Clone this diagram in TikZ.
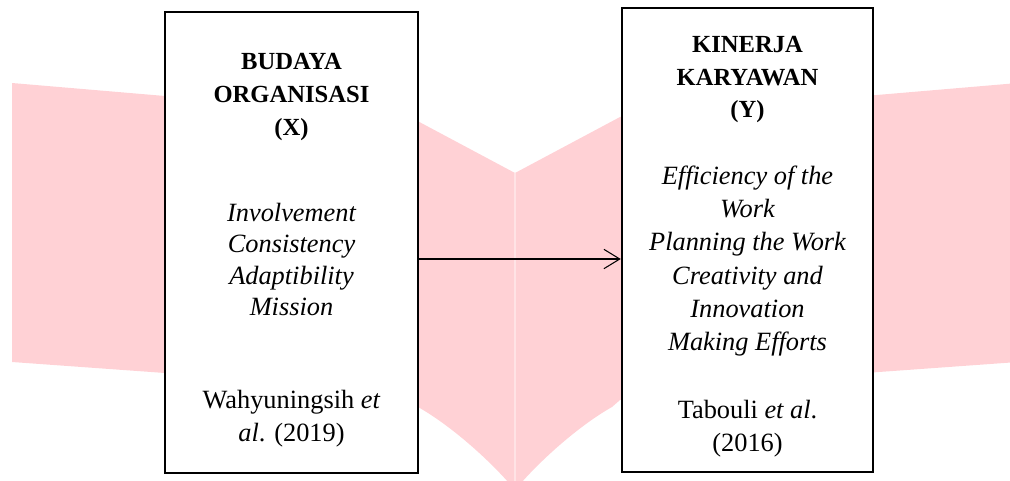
\documentclass[tikz,border=0pt]{standalone}
\usepackage{fontspec}
\setmainfont{Liberation Serif}
\usetikzlibrary{arrows.meta}
\definecolor{wmpink}{RGB}{255,209,213}
\tikzset{
  varbox/.style={draw, line width=1.4pt, fill=white, inner sep=0pt},
  head/.style={align=center, font=\fontsize{14}{18.6}\selectfont\bfseries},
  items/.style={align=center, font=\fontsize{15}{18.9}\selectfont\itshape},
  cite/.style={align=center, font=\fontsize{15}{18.8}\selectfont},
  arr/.style={-{Straight Barb[length=9pt,width=11pt]}, line width=0.6pt}
}

\begin{document}
\begin{tikzpicture}
\useasboundingbox (0,0) rectangle (20.2,9.6);

% watermark behind
\fill[wmpink] (0.24,7.94) -- (3.30,7.68) -- (8.20,7.26) -- (10.30,6.14)
  -- (12.40,7.26) -- (17.30,7.68) -- (20.36,7.94) -- (20.36,2.36)
  -- (17.30,2.14) -- (12.40,1.60) -- (12.24,1.46)
  .. controls (11.6,1.10) and (10.8,0.40) .. (10.30,-0.20)
  .. controls (9.8,0.40) and (9.0,1.10) .. (8.36,1.46)
  -- (8.20,1.60) -- (3.30,2.14) -- (0.24,2.36) -- cycle;
\draw[white, opacity=0.4, line width=0.6pt] (10.30,6.14) -- (10.30,-0.20);

\node[varbox, minimum width=5.06cm, minimum height=9.22cm] (budaya) at (5.83,4.75) {};
\node[varbox, minimum width=5.02cm, minimum height=9.28cm] (kinerja) at (14.95,4.80) {};

\node[head] (budayahead) at (5.83,7.66) {BUDAYA\\ORGANISASI\\(X)};
\node[items, font=\fontsize{15}{17.8}\selectfont\itshape] (budayaitems) at (5.83,4.41) {Involvement\\Consistency\\Adaptibility\\Mission};
\node[cite] (budayacite) at (5.83,1.23) {Wahyuningsih \textit{et}\\\textit{al}. (2019)};

\node[head] (kinerjahead) at (14.95,8.01) {KINERJA\\KARYAWAN\\(Y)};
\node[items] (kinerjaitems) at (14.95,4.38) {Efficiency of the\\Work\\Planning the Work\\Creativity and\\Innovation\\Making Efforts};
\node[cite] (kinerjacite) at (14.95,1.03) {Tabouli \textit{et al}.\\(2016)};

\coordinate (lvl) at (0,4.42);
\draw[arr] (budaya.east |- lvl) -- (kinerja.west |- lvl);
\end{tikzpicture}
\end{document}
